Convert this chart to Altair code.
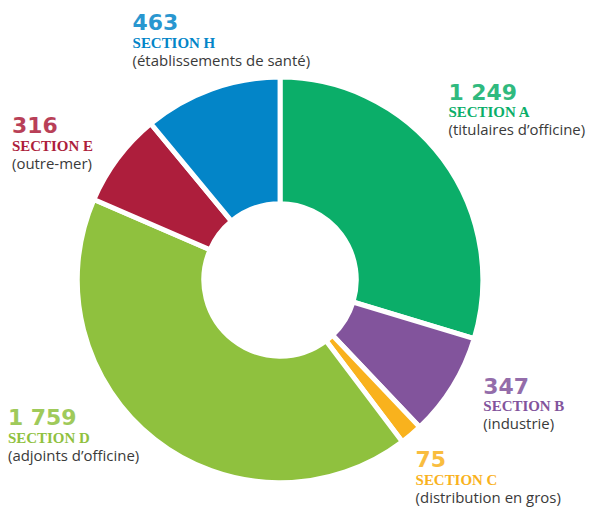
import altair as alt
import pandas as pd

sections = ["SECTION A", "SECTION B", "SECTION C", "SECTION D", "SECTION E", "SECTION H"]
values = [1249, 347, 75, 1759, 316, 463]
value_labels = ["1 249", "347", "75", "1 759", "316", "463"]
descriptions = [
    "(titulaires d\u2019officine)",
    "(industrie)",
    "(distribution en gros)",
    "(adjoints d\u2019officine)",
    "(outre-mer)",
    "(établissements de santé)",
]
colors = ["#0BAE69", "#82549C", "#F9B21D", "#8FC13E", "#AD1E3C", "#0385C8"]

df = pd.DataFrame({"section": sections, "value": values, "order": list(range(len(sections)))})

W, H = 578, 491
CX, CY = 273, 272

arcs = alt.Chart(df).mark_arc(
    innerRadius=76.5, outerRadius=203.5, stroke="white", strokeWidth=5
).encode(
    theta=alt.Theta("value:Q", stack=True),
    color=alt.Color("section:N", scale=alt.Scale(domain=sections, range=colors), legend=None),
    order=alt.Order("order:Q"),
    x=alt.value(CX),
    y=alt.value(CY),
)

# label anchor positions (layout only): left x, baseline of first line
label_pos = {
    "SECTION A": (442, 91),
    "SECTION B": (477, 386),
    "SECTION C": (409, 460),
    "SECTION D": (0, 418),
    "SECTION E": (4, 125),
    "SECTION H": (125, 21),
}

layers = [arcs]
for sec, vlab, desc, col in zip(sections, value_labels, descriptions, colors):
    lx, ly = label_pos[sec]
    one = pd.DataFrame({"num": [vlab], "sec": [sec], "desc": [desc]})
    base = alt.Chart(one)
    layers.append(base.mark_text(
        align="left", baseline="alphabetic", font="DejaVu Sans", fontWeight="bold",
        fontSize=22, color=col, opacity=0.85
    ).encode(text="num:N", x=alt.value(lx), y=alt.value(ly)))
    layers.append(base.mark_text(
        align="left", baseline="alphabetic", font="Liberation Serif", fontWeight="bold",
        fontSize=15, color=col
    ).encode(text="sec:N", x=alt.value(lx), y=alt.value(ly + 18)))
    layers.append(base.mark_text(
        align="left", baseline="alphabetic", font="Open Sans", fontWeight="normal",
        fontSize=15, color="#3a3a3a"
    ).encode(text="desc:N", x=alt.value(lx), y=alt.value(ly + 36)))

chart = alt.layer(*layers).properties(
    width=W, height=H, padding=0, background="white"
).configure_view(stroke=None)

chart.save("out.html", embed_options={"renderer": "svg", "actions": False})
